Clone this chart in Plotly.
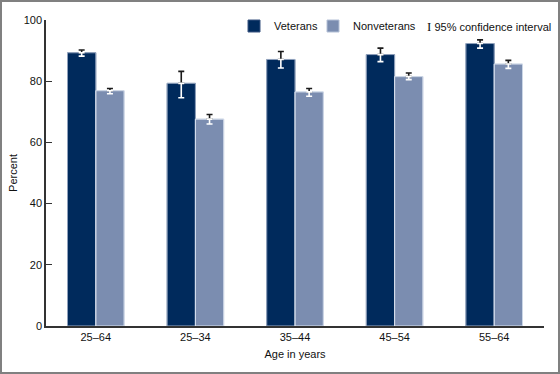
import plotly.graph_objects as go

categories = ["25–64", "25–34", "35–44", "45–54", "55–64"]
veterans = [89.3, 79.3, 87.1, 88.7, 92.3]
vet_plus = [0.9, 3.9, 2.6, 2.1, 1.2]
vet_minus = [1.1, 4.7, 2.8, 2.3, 1.5]
nonveterans = [76.9, 67.6, 76.5, 81.5, 85.6]
non_plus = [0.7, 1.5, 1.1, 1.2, 1.2]
non_minus = [1.0, 1.6, 1.4, 1.0, 1.4]

VET = "#002a5c"
NON = "#7b8db0"
FONT = "Liberation Sans, Arial, sans-serif"
W = 0.284

L, R, T, B = 46, 16, 20, 48
PW, PH = 560 - L - R, 374 - T - B


def px_x(p):
    return (p - L) / PW


def px_y(p):
    return (PH + T - p) / PH


fig = go.Figure()
fig.add_trace(go.Bar(
    x=categories, y=veterans, name="Veterans", width=W, offset=-W, legend="legend",
    marker=dict(color=VET, line=dict(color="#3a5580", width=1)),
    error_y=dict(type="data", symmetric=False, array=vet_plus,
                 arrayminus=[0]*5, color="#1a1a1a", thickness=1.6, width=3),
))
fig.add_trace(go.Bar(
    x=categories, y=nonveterans, name="Nonveterans", width=W, offset=0, legend="legend2",
    marker=dict(color=NON, line=dict(color="#b4c0d6", width=1)),
    error_y=dict(type="data", symmetric=False, array=non_plus,
                 arrayminus=[0]*5, color="#1a1a1a", thickness=1.6, width=3),
))
fig.add_trace(go.Bar(
    x=categories, y=veterans, width=W, offset=-W, showlegend=False,
    marker=dict(color="rgba(0,0,0,0)"), hoverinfo="skip",
    error_y=dict(type="data", symmetric=False, array=[0]*5,
                 arrayminus=vet_minus, color="white", thickness=1.6, width=3),
))
fig.add_trace(go.Bar(
    x=categories, y=nonveterans, width=W, offset=0, showlegend=False,
    marker=dict(color="rgba(0,0,0,0)"), hoverinfo="skip",
    error_y=dict(type="data", symmetric=False, array=[0]*5,
                 arrayminus=non_minus, color="white", thickness=1.6, width=3),
))

leg_common = dict(orientation="h", yanchor="middle", xanchor="left",
                  bgcolor="rgba(0,0,0,0)", font=dict(size=11, family=FONT, color="#111111"),
                  itemwidth=30, borderwidth=0)

fig.update_layout(
    width=560, height=374,
    margin=dict(l=L, r=R, t=T, b=B, autoexpand=False),
    barmode="overlay",
    paper_bgcolor="white", plot_bgcolor="white",
    font=dict(family=FONT, size=11, color="#111111"),
    showlegend=True,
    legend=dict(x=px_x(234), y=px_y(26), **leg_common),
    legend2=dict(x=px_x(313), y=px_y(26), **leg_common),
    xaxis=dict(range=[-0.5, 4.5], showline=True, linecolor="#333333", linewidth=1.5,
               ticks="", showgrid=False, tickfont=dict(size=11), automargin=False,
               title=dict(text="Age in years", font=dict(size=11), standoff=8)),
    yaxis=dict(range=[0, 100], tickvals=[0, 20, 40, 60, 80, 100], showline=True,
               linecolor="#333333", linewidth=1.5, ticks="inside", ticklen=6,
               tickcolor="#333333", showgrid=False, zeroline=False, automargin=False,
               tickfont=dict(size=11),
               title=dict(text="Percent", font=dict(size=11), standoff=4)),
    shapes=[dict(type="rect", xref="paper", yref="paper",
                 x0=px_x(1), x1=px_x(559), y0=px_y(373), y1=px_y(1),
                 line=dict(color="#808080", width=2), fillcolor="rgba(0,0,0,0)", layer="above")],
    annotations=[dict(xref="paper", yref="paper", x=px_x(425), y=px_y(26),
                      xanchor="left", yanchor="middle", showarrow=False,
                      text="<span style='font-family:Liberation Serif;font-size:13px'>I</span> 95% confidence interval",
                      font=dict(size=11, family=FONT))],
)

fig.write_html("out.html", config={"displayModeBar": False},
               post_script="document.body.style.margin='0';document.body.style.overflow='hidden';")
